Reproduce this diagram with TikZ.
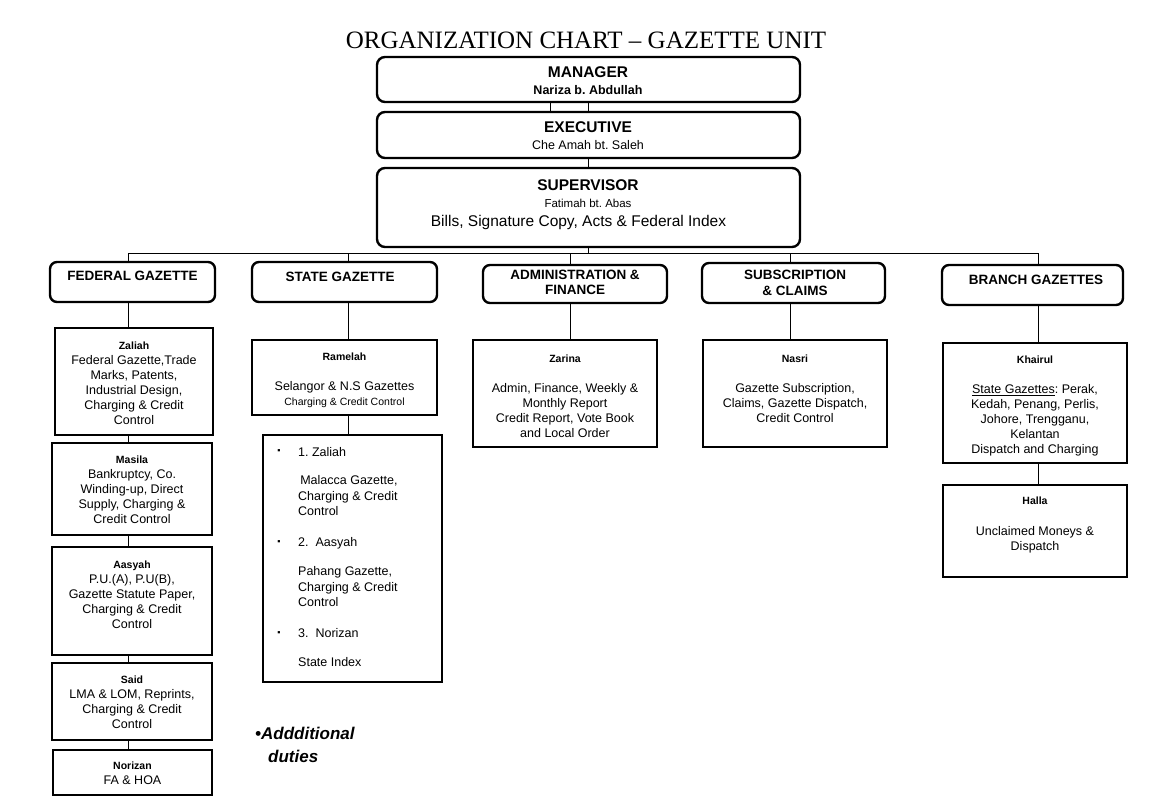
\documentclass[tikz,border=0pt]{standalone}
\usepackage{fontspec}
\setmainfont{Liberation Sans}
\newfontfamily\titlefont{Liberation Serif}
\frenchspacing
\begin{document}
\begin{tikzpicture}[x=1pt,y=-1pt,
  topbox/.style={draw, line width=2.4pt, rounded corners=8pt, inner sep=0pt},
  headbox/.style={draw, line width=2.4pt, rounded corners=7pt, inner sep=0pt},
  subbox/.style={draw, line width=1.6pt, inner sep=0pt},
  conn/.style={line width=1pt},
  body/.style={inner sep=0pt, align=center, font=\fontsize{12.5}{15}\selectfont},
  headtxt/.style={inner sep=0pt, align=center, font=\bfseries\fontsize{13.5}{15.5}\selectfont},
  toptxt/.style={inner sep=0pt, font=\bfseries\fontsize{15.5}{18}\selectfont},
  who/.style={font=\bfseries\fontsize{10.5}{15}\selectfont}
]
\useasboundingbox (0,0) rectangle (1155,805);
\fill[white] (0,0) rectangle (1155,805);

% title
\node[inner sep=0pt, font=\titlefont\fontsize{25}{30}\selectfont] (title) at (586,40) {ORGANIZATION CHART – GAZETTE UNIT};

% top boxes
\node[topbox, minimum width=423pt, minimum height=45pt] (mgr) at (588.5,79.5) {};
\node[topbox, minimum width=423pt, minimum height=46pt] (exe) at (588.5,135) {};
\node[topbox, minimum width=423pt, minimum height=79pt] (sup) at (588.5,207.5) {};
\node[toptxt] (mgrA) at (588,72) {MANAGER};
\node[inner sep=0pt, font=\bfseries\fontsize{12.5}{15}\selectfont] (mgrB) at (588,90) {Nariza b. Abdullah};
\node[toptxt] (exeA) at (588,127) {EXECUTIVE};
\node[body] (exeB) at (588,145) {Che Amah bt. Saleh};
\node[toptxt] (supA) at (588,185) {SUPERVISOR};
\node[inner sep=0pt, font=\fontsize{11.5}{14}\selectfont] (supB) at (588,203) {Fatimah bt. Abas};
\node[inner sep=0pt, font=\fontsize{15.5}{18}\selectfont] (supC) at (578.5,222) {Bills, Signature Copy, Acts \& Federal Index};

% header boxes
\node[headbox, minimum width=165pt, minimum height=40pt] (fed) at (132.5,282) {};
\node[headbox, minimum width=185pt, minimum height=40pt] (sta) at (344.5,282) {};
\node[headbox, minimum width=184pt, minimum height=38pt] (adm) at (575,284) {};
\node[headbox, minimum width=183pt, minimum height=40pt] (sub) at (793.5,283) {};
\node[headbox, minimum width=181pt, minimum height=40pt] (bra) at (1032.5,285) {};
\node[headtxt] (fedT) at (132.5,276) {FEDERAL GAZETTE};
\node[headtxt] (staT) at (340,277) {STATE GAZETTE};
\node[headtxt] (admT) at (575,282.5) {ADMINISTRATION \&\\FINANCE};
\node[headtxt] (subT) at (795,283) {SUBSCRIPTION\\\& CLAIMS};
\node[headtxt] (braT) at (1036,280) {BRANCH GAZETTES};

% level 2 boxes
\node[subbox, minimum width=158pt, minimum height=107pt] (zal) at (134,381.5) {};
\node[subbox, minimum width=160pt, minimum height=92pt] (mas) at (132,489) {};
\node[subbox, minimum width=160pt, minimum height=108pt] (aas) at (132,601) {};
\node[subbox, minimum width=160pt, minimum height=77pt] (sai) at (132,701.5) {};
\node[subbox, minimum width=159pt, minimum height=45pt] (nor) at (132.5,772.5) {};
\node[subbox, minimum width=185pt, minimum height=75pt] (ram) at (344.5,377.5) {};
\node[subbox, minimum width=179pt, minimum height=247pt] (add) at (352.5,558.5) {};
\node[subbox, minimum width=184pt, minimum height=107pt] (zar) at (565,393.5) {};
\node[subbox, minimum width=184pt, minimum height=107pt] (nas) at (795,393.5) {};
\node[subbox, minimum width=184pt, minimum height=120pt] (kha) at (1035,403) {};
\node[subbox, minimum width=184pt, minimum height=92pt] (hal) at (1035,531) {};

% level 2 texts
\node[body] (zalT) at (134,383) {{\bfseries\fontsize{10.5}{15}\selectfont Zaliah}\\Federal Gazette,Trade\\Marks, Patents,\\Industrial Design,\\Charging \& Credit\\Control};
\node[body] (masT) at (132,490) {{\bfseries\fontsize{10.5}{15}\selectfont Masila}\\Bankruptcy, Co.\\Winding-up, Direct\\Supply, Charging \&\\Credit Control};
\node[body] (aasT) at (132,595) {{\bfseries\fontsize{10.5}{15}\selectfont Aasyah}\\P.U.(A), P.U(B),\\Gazette Statute Paper,\\Charging \& Credit\\Control};
\node[body] (saiT) at (132,702) {{\bfseries\fontsize{10.5}{15}\selectfont Said}\\LMA \& LOM, Reprints,\\Charging \& Credit\\Control};
\node[body] (norT) at (132.5,773) {{\bfseries\fontsize{10.5}{15}\selectfont Norizan}\\FA \& HOA};
\node[body] (ramT) at (344.5,380) {{\bfseries\fontsize{10.5}{15}\selectfont Ramelah}\\[15pt]Selangor \& N.S Gazettes\\{\fontsize{10.5}{15}\selectfont Charging \& Credit Control}};
\node[body] (zarT) at (565,396) {{\bfseries\fontsize{10.5}{15}\selectfont Zarina}\\[15pt]Admin, Finance, Weekly \&\\Monthly Report\\Credit Report, Vote Book\\and Local Order};
\node[body] (nasT) at (795,389) {{\bfseries\fontsize{10.5}{15}\selectfont Nasri}\\[15pt]Gazette Subscription,\\Claims, Gazette Dispatch,\\Credit Control};
\node[body] (khaT) at (1035,406) {{\bfseries\fontsize{10.5}{15}\selectfont Khairul}\\[15pt]\underline{State Gazettes}: Perak,\\Kedah, Penang, Perlis,\\Johore, Trengganu,\\Kelantan\\Dispatch and Charging};
\node[body] (halT) at (1035,525) {{\bfseries\fontsize{10.5}{15}\selectfont Halla}\\[16pt]Unclaimed Moneys \&\\Dispatch};

% additional duties list
\node[inner sep=0pt, anchor=north west, align=left, font=\fontsize{12.5}{15.5}\selectfont] (addT) at (298,447) {1. Zaliah\\[13pt]\,Malacca Gazette,\\Charging \& Credit\\Control\\[15pt]2.\ \ Aasyah\\[14pt]Pahang Gazette,\\Charging \& Credit\\Control\\[15pt]3.\ \ Norizan\\[14pt]State Index};
\node[inner sep=0pt, font=\fontsize{9}{9}\selectfont] (b1) at (279,452) {▪};
\node[inner sep=0pt, font=\fontsize{9}{9}\selectfont] (b2) at (279,543) {▪};
\node[inner sep=0pt, font=\fontsize{9}{9}\selectfont] (b3) at (279,634) {▪};

% note
\node[inner sep=0pt, anchor=west, font=\bfseries\itshape\fontsize{17}{23}\selectfont] (noteA) at (255,733) {•Addditional};
\node[inner sep=0pt, anchor=west, font=\bfseries\itshape\fontsize{17}{23}\selectfont] (noteB) at (268,756) {duties};

% connectors
\coordinate (m1) at (550,0);
\coordinate (m2) at (588.5,0);
\draw[conn] (m1 |- mgr.south) -- (m1 |- exe.north);
\draw[conn] (m2 |- mgr.south) -- (m2 |- exe.north);
\draw[conn] (exe.south) -- (sup.north);
\coordinate (busL) at (128,253);
\coordinate (busR) at (1038,253);
\draw[conn] (busL) -- (busR);
\draw[conn] (sup.south) -- (sup.south |- busL);
\coordinate (dfed) at (128,253);
\coordinate (dsta) at (348,253);
\coordinate (dadm) at (570,253);
\coordinate (dsub) at (790,253);
\coordinate (dbra) at (1038,253);
\draw[conn] (dfed) -- (dfed |- fed.north);
\draw[conn] (dsta) -- (dsta |- sta.north);
\draw[conn] (dadm) -- (dadm |- adm.north);
\draw[conn] (dsub) -- (dsub |- sub.north);
\draw[conn] (dbra) -- (dbra |- bra.north);
\draw[conn] (dfed |- fed.south) -- (dfed |- zal.north);
\draw[conn] (dfed |- zal.south) -- (dfed |- mas.north);
\draw[conn] (dfed |- mas.south) -- (dfed |- aas.north);
\draw[conn] (dfed |- aas.south) -- (dfed |- sai.north);
\draw[conn] (dfed |- sai.south) -- (dfed |- nor.north);
\draw[conn] (dsta |- sta.south) -- (dsta |- ram.north);
\draw[conn] (dsta |- ram.south) -- (dsta |- add.north);
\draw[conn] (dadm |- adm.south) -- (dadm |- zar.north);
\draw[conn] (dsub |- sub.south) -- (dsub |- nas.north);
\draw[conn] (dbra |- bra.south) -- (dbra |- kha.north);
\draw[conn] (dbra |- kha.south) -- (dbra |- hal.north);
\end{tikzpicture}
\end{document}
